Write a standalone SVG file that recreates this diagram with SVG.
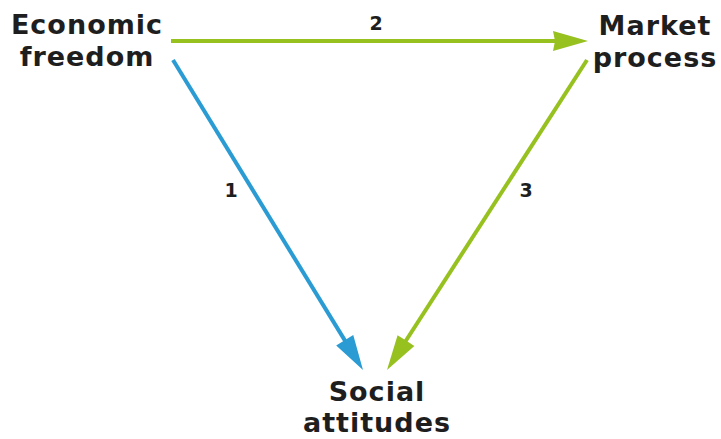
<svg xmlns="http://www.w3.org/2000/svg" width="721" height="439" viewBox="0 0 721 439">
<defs>
<style>
.node{font-family:"DejaVu Sans","Liberation Sans",sans-serif;font-weight:700;font-size:27px;letter-spacing:1px;fill:#1e1e1e;text-anchor:middle}
.lab{font-family:"DejaVu Sans","Liberation Sans",sans-serif;font-weight:700;font-size:19px;fill:#1e1e1e;text-anchor:middle}
.g{stroke:#97c11f;stroke-width:4;fill:none}
.b{stroke:#2a9bd3;stroke-width:4;fill:none}
.gh{fill:#97c11f}
.bh{fill:#2a9bd3}
</style>
</defs>
<rect width="721" height="439" fill="#fff"/>
<g id="connectors">
<line class="g" x1="171" y1="41" x2="556" y2="41"/>
<path class="gh" d="M588,41 L553,31 L555,41 L553,51 Z"/>
<line class="b" x1="173" y1="60" x2="345.76" y2="341.86"/>
<path class="bh" d="M363,370 L336.19,345.38 L344.71,340.16 L353.24,334.93 Z"/>
<line class="g" x1="587" y1="60" x2="404.89" y2="342.27"/>
<path class="gh" d="M387,370 L397.57,335.17 L405.97,340.59 L414.37,346.01 Z"/>
<text class="lab" x="376" y="30">2</text>
<text class="lab" x="231" y="197">1</text>
<text class="lab" x="526" y="197">3</text>
</g>
<g id="economic-freedom"><text class="node" x="87" y="34">Economic</text><text class="node" x="87" y="66">freedom</text></g>
<g id="market-process"><text class="node" x="655" y="35">Market</text><text class="node" x="655" y="67">process</text></g>
<g id="social-attitudes"><text class="node" x="377" y="401">Social</text><text class="node" x="377" y="432">attitudes</text></g>
</svg>
